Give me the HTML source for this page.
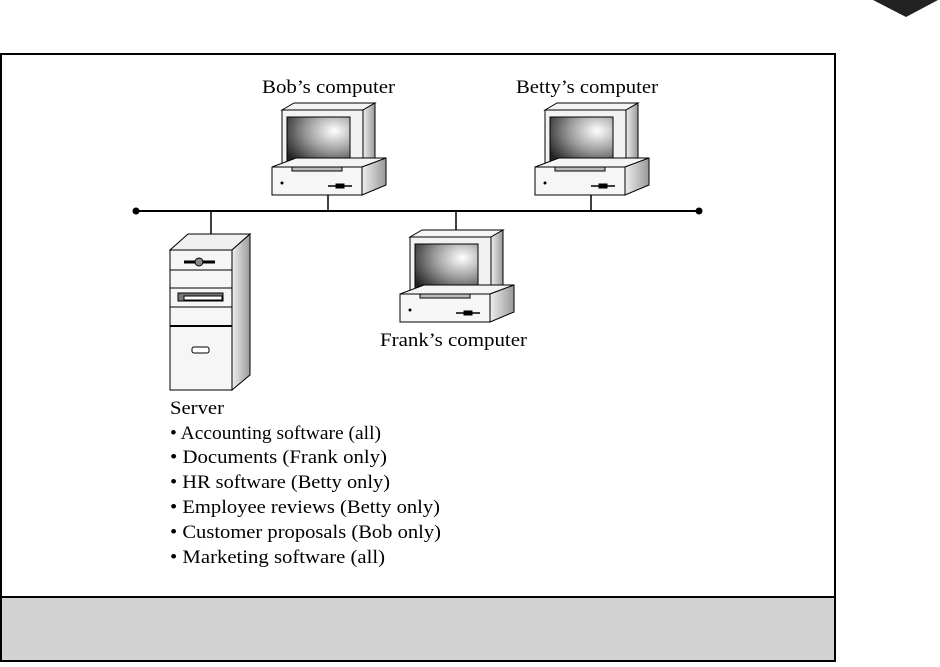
<!DOCTYPE html>
<html><head><style>
body{margin:0;width:940px;height:662px;background:#fff;overflow:hidden;font-family:"Liberation Serif",serif;}
</style></head><body>
<svg width="940" height="662" viewBox="0 0 940 662" xmlns="http://www.w3.org/2000/svg">
<defs>
<radialGradient id="scr" cx="0.75" cy="0.3" r="0.9"><stop offset="0" stop-color="#fff"/><stop offset="0.5" stop-color="#999"/><stop offset="1" stop-color="#222"/></radialGradient>
<linearGradient id="side" x1="0" x2="1"><stop offset="0" stop-color="#eee"/><stop offset="1" stop-color="#999"/></linearGradient>
<g id="pc" stroke="#000" stroke-width="1">
<polygon points="10,7 22,0 103,0 91,7" fill="#f4f4f4"/>
<polygon points="91,7 103,0 103,55 91,62" fill="url(#side)"/>
<rect x="10" y="7" width="81" height="60" fill="#f2f2f2"/>
<rect x="15" y="14" width="63" height="46" fill="url(#scr)"/>
<polygon points="0,64 24,55 114,55 90,64" fill="#f4f4f4"/>
<polygon points="90,64 114,55 114,82 90,92" fill="url(#side)"/>
<rect x="0" y="64" width="90" height="28" fill="#f6f6f6"/>
<rect x="20" y="64" width="50" height="4" fill="#bbb"/>
<line x1="56" y1="83" x2="80" y2="83" stroke-width="1.5"/>
<rect x="64" y="81" width="8" height="4" fill="#000"/>
<circle cx="10" cy="80" r="1" fill="#000"/>
</g>
</defs>
<polygon points="873,0 938,0 906,17" fill="#222"/>
<rect x="1" y="54" width="834" height="607" fill="#fff" stroke="#000" stroke-width="2"/>
<rect x="1" y="597" width="834" height="64" fill="#d3d3d3" stroke="#000" stroke-width="2"/>
<line x1="136" y1="211" x2="699" y2="211" stroke="#000" stroke-width="2"/>
<circle cx="136" cy="211" r="3.5"/><circle cx="699" cy="211" r="3.5"/>
<g stroke="#000" stroke-width="1.5">
<line x1="211" y1="211" x2="211" y2="236"/><line x1="328" y1="195" x2="328" y2="211"/>
<line x1="456" y1="211" x2="456" y2="232"/><line x1="591" y1="195" x2="591" y2="211"/>
</g>
<use href="#pc" x="272" y="103"/>
<use href="#pc" x="535" y="103"/>
<use href="#pc" x="400" y="230"/>
<g stroke="#000" stroke-width="1">
<polygon points="170,250 188,234 250,234 232,250" fill="#f0f0f0"/>
<polygon points="232,250 250,234 250,375 232,390" fill="url(#side)"/>
<rect x="170" y="250" width="62" height="140" fill="#f6f6f6"/>
<line x1="170" y1="270" x2="232" y2="270"/>
<line x1="170" y1="288" x2="232" y2="288"/>
<line x1="170" y1="307" x2="232" y2="307"/>
<line x1="170" y1="326" x2="232" y2="326" stroke-width="2"/>
<rect x="178" y="293" width="45" height="8" fill="#777"/>
<rect x="184" y="296" width="38" height="4" fill="#fff"/>
<line x1="184" y1="262" x2="215" y2="262" stroke-width="3"/>
<circle cx="199" cy="262" r="4" fill="#888"/>
<rect x="192" y="347" width="17" height="6" rx="2" fill="#fff"/>
</g>
<g font-size="18.5" fill="#000" lengthAdjust="spacingAndGlyphs">
<text x="262" y="93" textLength="133" lengthAdjust="spacingAndGlyphs">Bob’s computer</text>
<text x="516" y="93" textLength="142" lengthAdjust="spacingAndGlyphs">Betty’s computer</text>
<text x="380" y="346" textLength="147" lengthAdjust="spacingAndGlyphs">Frank’s computer</text>
<text x="170" y="414" textLength="54" lengthAdjust="spacingAndGlyphs">Server</text>
<text x="170" y="439" textLength="211" lengthAdjust="spacingAndGlyphs">• Accounting software (all)</text>
<text x="170" y="463" textLength="217" lengthAdjust="spacingAndGlyphs">• Documents (Frank only)</text>
<text x="170" y="488" textLength="220" lengthAdjust="spacingAndGlyphs">• HR software (Betty only)</text>
<text x="170" y="513" textLength="270" lengthAdjust="spacingAndGlyphs">• Employee reviews (Betty only)</text>
<text x="170" y="538" textLength="271" lengthAdjust="spacingAndGlyphs">• Customer proposals (Bob only)</text>
<text x="170" y="563" textLength="215" lengthAdjust="spacingAndGlyphs">• Marketing software (all)</text>
</g>
</svg>
</body></html>
